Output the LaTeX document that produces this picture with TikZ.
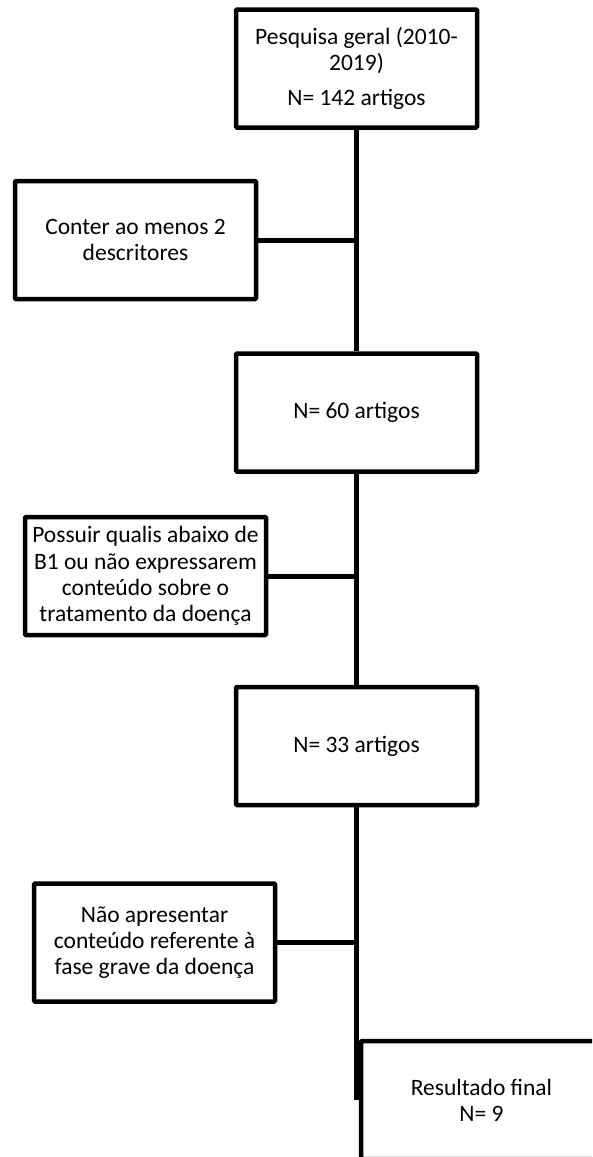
\documentclass[tikz,border=0pt]{standalone}
\usepackage{fontspec}
\setmainfont{Carlito}
\begin{document}
\begin{tikzpicture}[x=1pt,y=-1pt,
  box/.style={draw, line width=4.5pt, rounded corners=1pt, minimum width=241pt, minimum height=118pt,
    align=center, inner sep=0pt, font=\fontsize{23.5}{26.2}\selectfont},
  link/.style={line width=5pt}]
\useasboundingbox (0,0) rectangle (592,1157);
\clip (0,0) rectangle (592,1157);
\node[box] (box1) at (356.5,68.5) {Pesquisa geral (2010-\\2019)\\[9pt]N= 142 artigos};
\node[box] (box2) at (135.5,240) {Conter ao menos 2\\descritores};
\node[box] (box3) at (356.5,412.5) {N= 60 artigos};
\node[box] (box4) at (145.5,576) {Possuir qualis abaixo de\\B1 ou não expressarem\\conteúdo sobre o\\tratamento da doença};
\node[box] (box5) at (356.5,746) {N= 33 artigos};
\node[box] (box6) at (154.5,942.5) {Não apresentar\\conteúdo referente à\\fase grave da doença};
\node[box] (final) at (481.5,1100) {Resultado final\\N= 9};
\draw[link] (box1.south) -- (box3.north);
\draw[link] (box3.south) -- (box5.north);
\draw[link] (box5.south) -- (box5.south |- final.west);
\draw[link] (box2.east) -- (box2.east -| box1.south);
\draw[link] (box4.east) -- (box4.east -| box3.south);
\draw[link] (box6.east) -- (box6.east -| box5.south);
\end{tikzpicture}
\end{document}
